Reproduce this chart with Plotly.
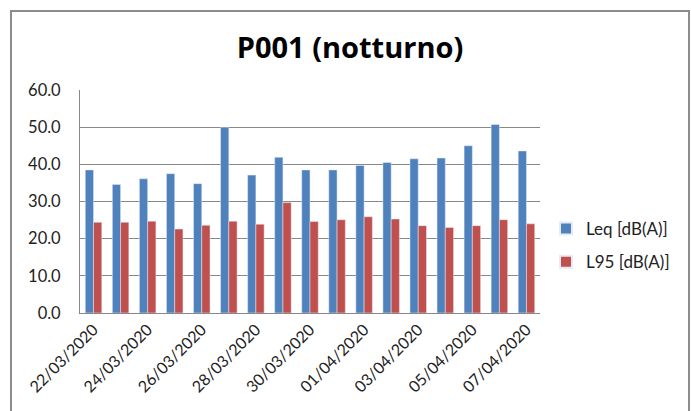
import plotly.graph_objects as go

dates = [
    "22/03/2020", "23/03/2020", "24/03/2020", "25/03/2020", "26/03/2020",
    "27/03/2020", "28/03/2020", "29/03/2020", "30/03/2020", "31/03/2020",
    "01/04/2020", "02/04/2020", "03/04/2020", "04/04/2020", "05/04/2020",
    "06/04/2020", "07/04/2020",
]
leq = [38.5, 34.6, 36.1, 37.5, 34.8, 50.0, 37.1, 41.9, 38.5, 38.5,
       39.7, 40.5, 41.5, 41.7, 45.0, 50.7, 43.6]
l95 = [24.4, 24.4, 24.7, 22.6, 23.6, 24.7, 23.9, 29.7, 24.6, 25.1,
       25.9, 25.3, 23.5, 23.0, 23.5, 25.1, 24.0]
shown_ticks = dates[::2]

FONT = "Lato, 'Liberation Sans', sans-serif"
TITLE_FONT = "'Open Sans', Lato, sans-serif"
GRID = "#888888"
TXT = "#222222"

fig = go.Figure()
fig.add_trace(go.Bar(x=dates, y=leq, name="Leq [dB(A)]", marker_color="#4F81BD",
                     legendgroup="leq"))
fig.add_trace(go.Bar(x=dates, y=l95, name="L95 [dB(A)]", marker_color="#C0504D",
                     legendgroup="l95"))

# plot area spans 80..540 px horizontally and 90..313 px vertically
W, H = 691, 411
L, R, T, B = 80, 151, 90, 98
pw, ph = W - L - R, H - T - B

def px(xp):
    return (xp - L) / pw

def py(yp):
    return (H - B - yp) / ph

# outer chart frame
fig.add_shape(type="rect", xref="paper", yref="paper",
              x0=px(11), x1=px(689), y0=py(430), y1=py(11),
              line=dict(color="#8c8c8c", width=2), fillcolor="rgba(0,0,0,0)",
              layer="below")

fig.update_layout(
    width=W, height=H,
    margin=dict(l=L, r=R, t=T, b=B, autoexpand=False),
    paper_bgcolor="white", plot_bgcolor="white",
    font=dict(family=FONT, size=16, color=TXT),
    title=dict(text="<b>P001 (notturno)</b>", xref="container", x=350 / W,
               xanchor="center", yref="container", y=1 - 48 / H,
               yanchor="middle",
               font=dict(family=TITLE_FONT, size=29, color="#000000")),
    barmode="group", bargap=0.39, bargroupgap=0,
    showlegend=True,
    legend=dict(x=px(546), y=py(211), xanchor="left", yanchor="top",
                font=dict(family=FONT, size=17, color=TXT),
                itemsizing="constant", tracegroupgap=8,
                bgcolor="rgba(0,0,0,0)"),
    xaxis=dict(type="category", tickmode="array", tickvals=shown_ticks,
               ticktext=shown_ticks, tickangle=-45, showgrid=False,
               showline=True, linecolor=GRID, linewidth=1, ticks="",
               tickfont=dict(family=FONT, size=16, color=TXT)),
    yaxis=dict(range=[0, 60], dtick=10, tickformat=".1f", showgrid=True,
               gridcolor=GRID, gridwidth=1, showline=True, linecolor=GRID,
               linewidth=1, zeroline=False, ticks="", ticklabelstandoff=15,
               tickfont=dict(family=FONT, size=16.5, color=TXT)),
)

fig.write_html("out.html")
